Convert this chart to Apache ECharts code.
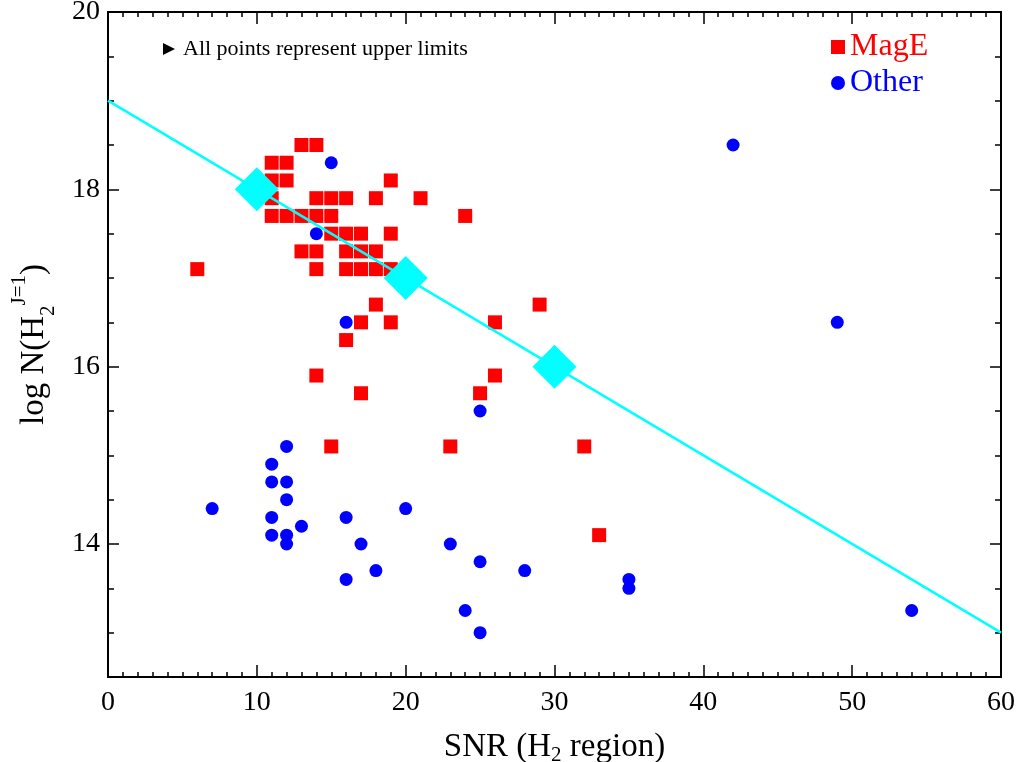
<!DOCTYPE html>
<html>
<head>
<meta charset="utf-8">
<script src="https://cdn.jsdelivr.net/npm/echarts@6/dist/echarts.min.js"></script>
<style>html,body{margin:0;padding:0;background:#fff;}#c{width:1020px;height:762px;}</style>
</head>
<body>
<div id="c"></div>
<script>
// ---- data ----
const mageX = [13,14, 11,12, 11,12,19, 11,14,15,16,18,21, 11,12,13,14,15,24, 15,16,17,19, 13,14,16,17,18, 6,14,16,17,18,19, 18,29, 17,19,26, 16, 14,26, 17,25, 15,23,32, 33];
const mageY = [18.5,18.5, 18.3,18.3, 18.1,18.1,18.1, 17.9,17.9,17.9,17.9,17.9,17.9, 17.7,17.7,17.7,17.7,17.7,17.7, 17.5,17.5,17.5,17.5, 17.3,17.3,17.3,17.3,17.3, 17.1,17.1,17.1,17.1,17.1,17.1, 16.7,16.7, 16.5,16.5,16.5, 16.3, 15.9,15.9, 15.7,15.7, 15.1,15.1,15.1, 14.1];
const otherX = [15,14,16,25,42,49,54,12,11,11,12,12,7,11,13,16,20,11,12,12,17,23,18,16,25,28,24,25,35,35];
const otherY = [18.3,17.5,16.5,15.5,18.5,16.5,13.25,15.1,14.9,14.7,14.7,14.5,14.4,14.3,14.2,14.3,14.4,14.1,14.1,14.0,14.0,14.0,13.7,13.6,13.8,13.7,13.25,13.0,13.6,13.5];
const fitX = [10,20,30];
const fitY = [18,17,16];
const lineX = [0,60];
const lineY = [19,13];
const yMajorTicks = [14,16,18,20];
const seriesNames = ['MagE','Other'];
const note = 'All points represent upper limits';

const zip = (a,b) => a.map((v,i)=>[v,b[i]]);
const FONT = '"Liberation Serif", "Times New Roman", serif';
const BLACK = '#000';

const chart = echarts.init(document.getElementById('c'), null, {renderer:'canvas'});

const axisLine = {show:true, lineStyle:{color:BLACK, width:2}};
const xBase = {type:'value', min:0, max:60, interval:10, gridIndex:0,
  axisLine: axisLine, splitLine:{show:false},
  axisTick:{show:true, inside:true, length:12, lineStyle:{color:BLACK, width:1.5}},
  minorTick:{show:true, splitNumber:10, length:5, lineStyle:{color:BLACK, width:1.5}}
};
const yRange = {type:'value', min:12.5, max:20, gridIndex:0, splitLine:{show:false}, axisLine: axisLine};

const option = {
  backgroundColor:'#fff',
  animation:false,
  grid:{left:108, right:19, top:12, bottom:85, containLabel:false, outerBoundsMode:'none'},
  legend:{
    orient:'vertical', left:826, top:26, itemWidth:14, itemHeight:14, itemGap:4, itemTextGap:8,
    textStyle:{fontFamily:FONT, fontSize:32},
    data:[
      {name:seriesNames[0], icon:'rect', textStyle:{color:'#ff0000'}, itemStyle:{opacity:1}},
      {name:seriesNames[1], icon:'circle', textStyle:{color:'#0000ff'}, itemStyle:{opacity:1}}
    ]
  },
  xAxis:[
    Object.assign({}, xBase, {position:'bottom',
      axisLabel:{show:true, color:BLACK, fontFamily:FONT, fontSize:28, margin:12},
      name:'SNR (H{sub|2} region)', nameLocation:'middle', nameGap:51,
      nameTextStyle:{color:BLACK, fontFamily:FONT, fontSize:33, lineHeight:38,
        rich:{sub:{fontFamily:FONT, fontSize:21, color:BLACK, verticalAlign:'bottom', lineHeight:38}}}
    }),
    Object.assign({}, xBase, {position:'top', axisLabel:{show:false}})
  ],
  yAxis:[
    Object.assign({}, yRange, {position:'left', interval:0.5,
      axisTick:{show:true, inside:true, length:6, lineStyle:{color:BLACK, width:1.5}},
      axisLabel:{show:true, color:BLACK, fontFamily:FONT, fontSize:28, margin:8,
        formatter:(v)=> (Math.abs(v % 2) < 1e-9 && v >= 14) ? String(v) : ''},
      name:'log N(H{sub|2}{sup|J=1})', nameLocation:'middle', nameGap:49, nameRotate:90,
      nameTextStyle:{color:BLACK, fontFamily:FONT, fontSize:33, lineHeight:50,
        rich:{
          sub:{fontFamily:FONT, fontSize:21, color:BLACK, verticalAlign:'bottom', lineHeight:50},
          sup:{fontFamily:FONT, fontSize:21, color:BLACK, verticalAlign:'top', lineHeight:50}
        }}
    }),
    Object.assign({}, yRange, {position:'left', interval:0.5,
      axisTick:{show:true, inside:true, length:11, customValues:yMajorTicks, lineStyle:{color:BLACK, width:1.5}},
      axisLabel:{show:false}}),
    Object.assign({}, yRange, {position:'right', interval:0.5,
      axisTick:{show:true, inside:true, length:6, lineStyle:{color:BLACK, width:1.5}},
      axisLabel:{show:false}}),
    Object.assign({}, yRange, {position:'right', interval:0.5,
      axisTick:{show:true, inside:true, length:11, customValues:yMajorTicks, lineStyle:{color:BLACK, width:1.5}},
      axisLabel:{show:false}})
  ],
  graphic:[
    {type:'polygon', shape:{points:[[163,43],[175,49],[163,55]]}, style:{fill:BLACK}},
    {type:'text', left:183, top:38, style:{text:note, font:'22px "Liberation Serif"', fill:BLACK}}
  ],
  series:[
    {name:seriesNames[0], type:'scatter', xAxisIndex:0, yAxisIndex:0, symbol:'rect', symbolSize:14,
     itemStyle:{color:'#ff0000', opacity:1}, data:zip(mageX, mageY), z:2},
    {name:seriesNames[1], type:'scatter', xAxisIndex:0, yAxisIndex:0, symbol:'circle', symbolSize:13,
     itemStyle:{color:'#0000ff', opacity:1}, data:zip(otherX, otherY), z:3},
    {name:'fitline', type:'line', xAxisIndex:0, yAxisIndex:0, showSymbol:false, symbol:'none',
     lineStyle:{color:'#00ffff', width:2.5}, data:zip(lineX, lineY), z:4},
    {name:'fitpts', type:'scatter', xAxisIndex:0, yAxisIndex:0, symbol:'diamond', symbolSize:44,
     itemStyle:{color:'#00ffff', opacity:1}, data:zip(fitX, fitY), z:5}
  ]
};
chart.setOption(option);
</script>
</body>
</html>
